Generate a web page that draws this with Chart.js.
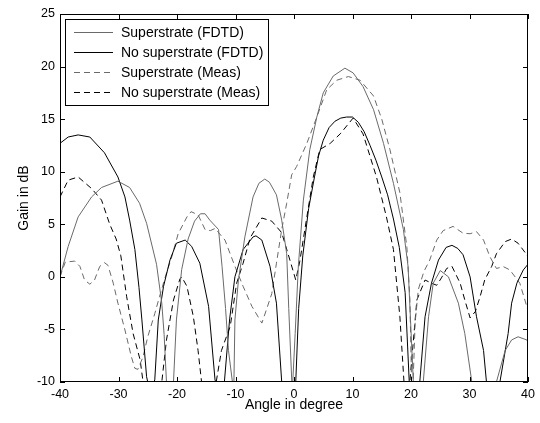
<!DOCTYPE html>
<html>
<head>
<meta charset="utf-8">
<script src="https://cdn.jsdelivr.net/npm/chart.js@4/dist/chart.umd.min.js"></script>
<style>
  html, body { margin: 0; padding: 0; background: #fff; }
  #wrap { width: 540px; height: 423px; }
</style>
</head>
<body>
<div id="wrap"><canvas id="gainChart" width="540" height="423"></canvas></div>
<script>
'use strict';

// ── Data (angle in degree, gain in dB) ──
// values of -11 mark nulls that drop below the visible -10 dB floor
const xTicks = [-40, -30, -20, -10, 0, 10, 20, 30, 40];
const yTicks = [-10, -5, 0, 5, 10, 15, 20, 25];

const supFdtdX = [-40, -38.6, -36.9, -34.6, -32.9, -30.1, -28.1, -26.4, -25.2, -23.5, -22.6, -22.2, -21.8, -21.2,
    -20.6, -20.1, -19.2, -18.1, -17, -16, -15.2, -14.4, -12.9, -12.3, -11.7, -11.2, -10.3,
    -10.1, -9.5, -8.4, -7, -6, -5, -4.2, -3, -2.1, -1.25, -0.9, -0.3,
    0.2, 0.74, 1.6, 2.7, 3.9, 5.0, 6.7, 8.7, 10.1, 11.8, 13.6, 15.3, 17.0, 18.7, 19.5, 20.4, 21.2,
    22.1, 23, 23.8, 25, 26.4, 28.1, 29.2, 30.4, 32.5,
    34.6, 36.1, 37.2, 38.3, 39.8, 40];
const supFdtdY = [0, 2.9, 5.7, 7.6, 8.5, 9.1, 8.5, 7.0, 5.1, 1.2, -2.5, -5.5, -10, -11,
    -10, -4.1, 0.7, 3.6, 5.3, 6.0, 6.0, 5.4, 4.5, 1, -3, -7, -11,
    -4.1, -0.3, 3.8, 7.6, 8.9, 9.3, 9.0, 7.8, 5.4, 2.2, -3, -11,
    -5.4, 1.0, 7.3, 12.1, 15.2, 17.5, 19.1, 19.85, 19.4, 18.1, 15.9, 12.7, 8.9, 4.5, 1, -10, -11,
    -10, -3.8, -0.6, 0.6, 0, -2.5, -5.4, -10, -11,
    -10, -7, -6, -5.7, -6, -6.2];

const noSupFdtdX = [-40, -38.6, -36.9, -34.9, -32.4, -30.1, -28.9, -28.1, -27.2, -26.5, -26, -25.2, -24.6,
    -23.8, -23.2, -22.3, -21.2, -20.1, -18.6, -17.5, -16.1, -14.6, -13.5, -12.7,
    -11.9, -11, -10.1, -8.7, -7, -6.5, -5.5, -4.1, -3, -2.1, -1,
    0.3, 0.8, 1.5, 2.5, 3.5, 4.2, 5, 6, 7, 8, 9, 10, 11, 12, 13, 14, 15, 16, 17, 18, 19, 19.7, 20.6,
    21.5, 22.4, 23.5, 24.7, 26, 27, 28, 28.9, 30.1, 31.2, 32.4, 32.9, 34,
    35.2, 36.6, 37.2, 38.1, 39.2, 40];
const noSupFdtdY = [12.7, 13.3, 13.5, 13.3, 11.8, 9.5, 7.6, 5.4, 2.6, -1, -4.1, -9.5, -11,
    -9.8, -4.1, -0.9, 1.6, 3.2, 3.5, 2.9, 1.3, -2.8, -9.8, -11,
    -10, -4, 0, 2.6, 3.8, 3.9, 3.5, 1.0, -2.5, -10, -11,
    -10, -3, 2, 6.5, 9.5, 11.5, 13, 14.2, 14.8, 15.1, 15.2, 15.2, 14.7, 13.8, 12.5, 11.1, 9.5, 7.8, 5.5, 2.8, -1.5, -10, -11,
    -10, -3.8, -0.6, 1.6, 2.8, 3.0, 2.7, 2.1, 0, -3.8, -7, -10, -11,
    -10, -5.4, -2.5, -0.6, 0.66, 1.2];

const supMeasX = [-40, -39.1, -38.3, -37.5, -36.6, -35.8, -34.9, -34.1, -33.2, -32.4, -31.8, -30.9, -30.1, -28.9,
    -27.8, -27.2, -26.7, -25.8, -25, -23.8, -23, -22, -20.9, -19.8, -18.3, -17.6, -16.4, -15.2, -14.3, -13.5,
    -11.8, -10.1, -8.7, -7.2, -5.5, -4.7, -3.8, -3, -2.1, -1.25, -0.4, 0.45, 2.2, 3.9, 5.6, 7.3, 9.3, 11.3,
    13.6, 15, 16.4, 18.1, 19.3, 19.8, 20.1, 20.3, 20.7, 21.25, 22.2, 23.2, 24.4, 25.5, 27.2, 28.9, 30.1, 31.2,
    32.4, 33.5, 34.6, 35.8, 36.9, 38.6, 40];
const supMeasY = [0, 1.4, 1.45, 1.5, 1.0, -0.3, -0.7, -0.3, 1.0, 1.35, 1.1, -0.6, -2.5, -5.05,
    -7.6, -8.7, -8.8, -7.6, -5.7, -3.5, -1.9, 0, 1.9, 4.1, 5.7, 6.2, 5.9, 4.5, 4.4, 4.6,
    3.5, 1.0, -0.9, -2.8, -4.4, -3.1, -1.6, 1.3, 4.5, 7.0, 9.7, 10.5, 12.7, 15.2, 17.8, 18.7, 19.05, 18.7,
    17.2, 15, 12.1, 8.0, 2.8, -2, -10, -11, -4.4, -1.2, 0.5, 1.6, 3.5, 4.4, 4.8, 4.15, 4.1, 4.3,
    3.5, 1.9, 0.8, 0.97, 0.66, -0.6, -3.2];

const noSupMeasX = [-40, -38.6, -36.9, -34.6, -32.9, -31.5, -30.4, -29.6, -28.6, -27.5, -26.3, -25.8, -25,
    -22.6, -21.8, -20.6, -19.5, -19.2, -18.3, -17.2, -16.4, -15.8, -14.5,
    -13.3, -12.4, -10.9, -9.8, -8.7, -7.5, -5.5, -3.8, -2.1, -0.7, 0.3, 1.0, 2.2, 3.3, 4.4, 6.2, 7.9,
    10.1, 11.8, 14.1, 15.8, 17, 18.1, 18.8, 19.3,
    19.8, 21, 22.4, 23.5, 24.4, 25.2, 26.1, 27, 28.4, 29.2, 30.1, 31, 31.8, 32.6, 33.8, 34.6, 36.1, 37.2, 38.3, 39.8, 40];
const noSupMeasY = [7.6, 9.2, 9.5, 8.4, 7.3, 5.0, 3.6, 2.0, -1.9, -5.4, -7.9, -10, -11,
    -10, -6, -2.2, -0.2, 0, -0.9, -3.8, -7, -10, -11,
    -10, -7, -4.7, -0.6, 1.3, 3.7, 5.6, 5.3, 4.2, 1.6, -0.3, 1.5, 5.7, 9.5, 12.1, 12.7, 13.6,
    15.1, 13.6, 9.5, 5.7, 2.6, -3.8, -10, -11,
    -10, -2.2, -0.3, -0.6, -0.8, -0.1, 0.8, 1.0, -0.6, -2.2, -3.9, -3.3, -1.9, -0.3, 1.0, 2.2, 3.35, 3.6, 3.2, 2.1, 1.9];

const seriesNames = ['Superstrate (FDTD)', 'No superstrate (FDTD)', 'Superstrate (Meas)', 'No superstrate (Meas)'];

// ── Plot frame (px) ──
const FRAME = { left: 60, top: 14, right: 528, bottom: 382 };
const FONT = '"Liberation Sans", Arial, Helvetica, sans-serif';
const GRAY = '#6a6a6a';
const DASH = [6, 4];

function toPoints(xs, ys) {
    return xs.map((x, i) => ({ x, y: ys[i] }));
}

// ── Box around axes + inward tick marks (MATLAB style) ──
const boxTicksPlugin = {
    id: 'boxTicks',
    afterDraw(chart) {
        const { ctx, chartArea: a, scales } = chart;
        const len = 5;
        ctx.save();
        ctx.strokeStyle = '#000';
        ctx.lineWidth = 1;
        ctx.strokeRect(a.left + 0.5, a.top + 0.5, a.right - a.left - 1, a.bottom - a.top - 1);
        ctx.beginPath();
        xTicks.forEach(v => {
            const px = Math.round(scales.x.getPixelForValue(v)) + 0.5;
            ctx.moveTo(px, a.bottom); ctx.lineTo(px, a.bottom - len);
            ctx.moveTo(px, a.top); ctx.lineTo(px, a.top + len);
        });
        yTicks.forEach(v => {
            const py = Math.round(scales.y.getPixelForValue(v)) + 0.5;
            ctx.moveTo(a.left, py); ctx.lineTo(a.left + len, py);
            ctx.moveTo(a.right, py); ctx.lineTo(a.right - len, py);
        });
        ctx.stroke();
        ctx.restore();
    }
};

// ── Legend box inside the top-left corner ──
const innerLegendPlugin = {
    id: 'innerLegend',
    afterDatasetsDraw(chart) {
        const { ctx } = chart;
        const box = { x: 65.5, y: 19.5, w: 203, h: 86 };
        ctx.save();
        ctx.fillStyle = '#fff';
        ctx.fillRect(box.x, box.y, box.w, box.h);
        ctx.strokeStyle = '#000';
        ctx.lineWidth = 1;
        ctx.strokeRect(box.x, box.y, box.w, box.h);
        ctx.font = '14px ' + FONT;
        ctx.textBaseline = 'middle';
        chart.data.datasets.forEach((ds, i) => {
            const y = 32.5 + i * 20;
            ctx.beginPath();
            ctx.strokeStyle = ds.borderColor;
            ctx.setLineDash(ds.borderDash || []);
            ctx.moveTo(74, y); ctx.lineTo(113, y);
            ctx.stroke();
            ctx.setLineDash([]);
            ctx.fillStyle = '#000';
            ctx.fillText(ds.label, 121, y + 0.5);
        });
        ctx.restore();
    }
};

const datasets = [
    { label: seriesNames[0], data: toPoints(supFdtdX, supFdtdY), borderColor: GRAY, borderWidth: 1 },
    { label: seriesNames[1], data: toPoints(noSupFdtdX, noSupFdtdY), borderColor: '#000', borderWidth: 1 },
    { label: seriesNames[2], data: toPoints(supMeasX, supMeasY), borderColor: GRAY, borderWidth: 1, borderDash: DASH },
    { label: seriesNames[3], data: toPoints(noSupMeasX, noSupMeasY), borderColor: '#000', borderWidth: 1, borderDash: DASH }
].map(d => Object.assign(d, { pointRadius: 0, fill: false, tension: 0 }));

new Chart(document.getElementById('gainChart').getContext('2d'), {
    type: 'line',
    data: { datasets },
    plugins: [boxTicksPlugin, innerLegendPlugin],
    options: {
        responsive: false,
        animation: false,
        layout: { padding: { left: 0, top: FRAME.top, right: 540 - FRAME.right, bottom: 0 } },
        plugins: { legend: { display: false }, tooltip: { enabled: false } },
        scales: {
            x: {
                type: 'linear',
                min: -40, max: 40,
                afterBuildTicks: s => { s.ticks = xTicks.map(v => ({ value: v })); },
                afterFit: s => { s.height = 423 - FRAME.bottom; },
                grid: { display: false, drawTicks: false },
                border: { display: false },
                ticks: { color: '#000', padding: 5, font: { family: FONT, size: 12.5 } },
                title: { display: true, text: 'Angle in degree', color: '#000',
                         padding: { top: 0, bottom: 9.5 }, font: { family: FONT, size: 14 } }
            },
            y: {
                min: -10, max: 25,
                afterBuildTicks: s => { s.ticks = yTicks.map(v => ({ value: v })); },
                afterFit: s => { s.width = FRAME.left; },
                grid: { display: false, drawTicks: false },
                border: { display: false },
                ticks: { color: '#000', padding: 5, font: { family: FONT, size: 12.5 } },
                title: { display: true, text: 'Gain in dB', color: '#000',
                         padding: { top: 15.5, bottom: 0 }, font: { family: FONT, size: 14 } }
            }
        }
    }
});
</script>
</body>
</html>
